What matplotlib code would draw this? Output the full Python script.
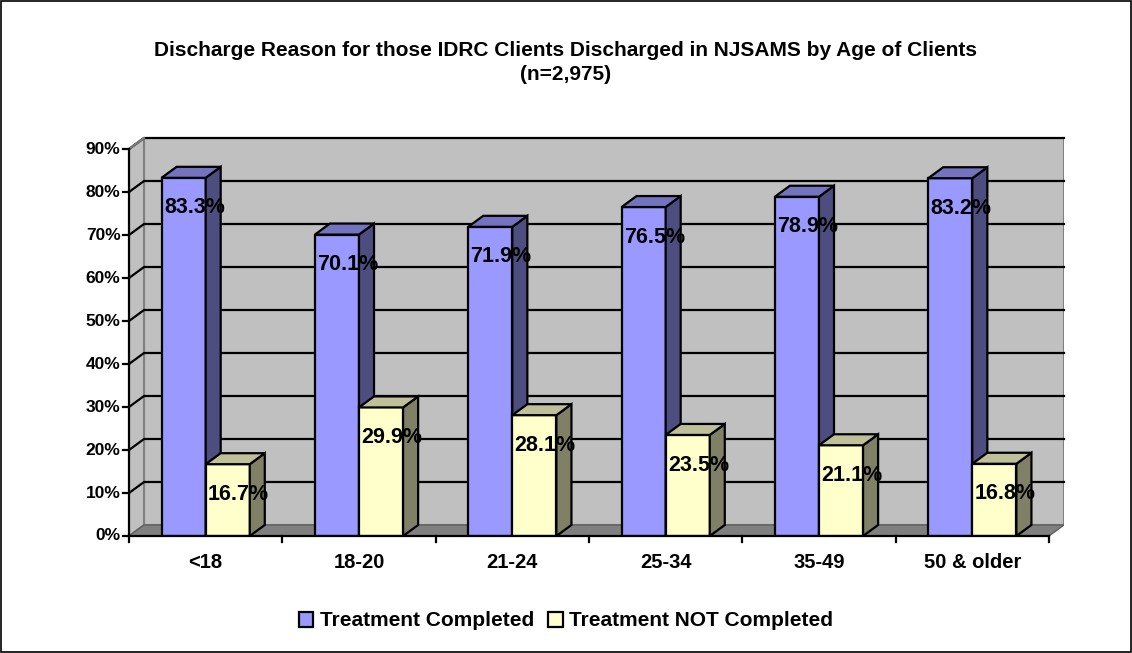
import matplotlib
matplotlib.use("Agg")
import matplotlib.pyplot as plt
from matplotlib.patches import Polygon, Rectangle, Patch

plt.rcParams['font.family'] = ['Liberation Sans', 'DejaVu Sans']

# data
ages = ['<18', '18-20', '21-24', '25-34', '35-49', '50 & older']
completed = [83.3, 70.1, 71.9, 76.5, 78.9, 83.2]
not_completed = [16.7, 29.9, 28.1, 23.5, 21.1, 16.8]
series_names = ['Treatment Completed', 'Treatment NOT Completed']
yticks = [0, 10, 20, 30, 40, 50, 60, 70, 80, 90]

# 3d look
dx = 0.098   # depth offset in category units
dy = 2.56    # depth offset in percent units
bw = 0.2876
colors = [('#9999FF', '#4D4D80', '#7373BF'),
          ('#FFFFCC', '#808066', '#BFBF99')]

W, H = 1132, 653
fig = plt.figure(figsize=(W / 100, H / 100), dpi=100)
fig.patch.set_facecolor('white')
ax = fig.add_axes([129 / W, (H - 536) / H, (1064 - 129) / W, (536 - 138) / H])
ax.set_xlim(-0.5, 5.5 + dx)
ax.set_ylim(0, 90 + dy)
ax.axis('off')

# walls
ax.add_patch(Rectangle((-0.5 + dx, dy), 6, 90, facecolor='#C0C0C0',
                       edgecolor='#808080', lw=1.5, zorder=0))
ax.add_patch(Polygon([(-0.5, 0), (-0.5, 90), (-0.5 + dx, 90 + dy), (-0.5 + dx, dy)],
                     closed=True, facecolor='#C0C0C0', edgecolor='#808080', lw=1.5, zorder=0))
ax.add_patch(Polygon([(-0.5, 0), (5.5, 0), (5.5 + dx, dy), (-0.5 + dx, dy)],
                     closed=True, facecolor='#808080', edgecolor='#606060', lw=1, zorder=0))

# gridlines
for t in yticks[1:]:
    ax.plot([-0.5, -0.5 + dx, 5.5 + dx], [t, t + dy, t + dy], color='black',
            lw=1.6, zorder=1, clip_on=False)
ax.plot([-0.5, -0.5 + dx], [90, 90 + dy], color='#808080', lw=1.5, zorder=1, clip_on=False)

# axes lines + ticks
ax.plot([-0.5, -0.5], [0, 90], color='black', lw=1.6, zorder=5, clip_on=False)
ax.plot([-0.5, 5.5], [0, 0], color='black', lw=1.6, zorder=5, clip_on=False)
for t in yticks:
    ax.plot([-0.5 - 0.04, -0.5], [t, t], color='black', lw=1.6, zorder=5, clip_on=False)
    ax.text(-0.5 - 0.055, t, f'{t}%', ha='right', va='center', fontsize=12.5,
            fontweight='bold')
for i in range(len(ages) + 1):
    ax.plot([i - 0.5, i - 0.5], [0, -1.4], color='black', lw=1.6, zorder=5, clip_on=False)
for i, a in enumerate(ages):
    ax.text(i, -6.1, a, ha='center', va='center', fontsize=14.5, fontweight='bold')


def bar3d(x0, h, cols):
    front, side, top = cols
    ax.bar(x0, h, width=bw, align='edge', color=front, edgecolor='black', lw=1.6, zorder=3)
    ax.add_patch(Polygon([(x0 + bw, 0), (x0 + bw + dx, dy), (x0 + bw + dx, h + dy), (x0 + bw, h)],
                         closed=True, facecolor=side, edgecolor='black', lw=1.6, zorder=3))
    ax.add_patch(Polygon([(x0, h), (x0 + dx, h + dy), (x0 + bw + dx, h + dy), (x0 + bw, h)],
                         closed=True, facecolor=top, edgecolor='black', lw=1.6, zorder=3))


for i in range(len(ages)):
    bar3d(i - bw, completed[i], colors[0])
    bar3d(i, not_completed[i], colors[1])

for i in range(len(ages)):
    ax.text(i - bw / 2 + 0.07, completed[i] - 7, f'{completed[i]:.1f}%', ha='center',
            va='center', fontsize=15.5, fontweight='bold', zorder=6)
    ax.text(i + bw / 2 + 0.07, not_completed[i] - 7, f'{not_completed[i]:.1f}%', ha='center',
            va='center', fontsize=15.5, fontweight='bold', zorder=6)

fig.text(0.5, 1 - 50 / H, 'Discharge Reason for those IDRC Clients Discharged in NJSAMS by Age of Clients',
         ha='center', va='center', fontsize=15, fontweight='bold')
fig.text(0.5, 1 - 74 / H, '(n=2,975)', ha='center', va='center', fontsize=15, fontweight='bold')

handles = [Patch(facecolor=colors[0][0], edgecolor='black', lw=1.6),
           Patch(facecolor=colors[1][0], edgecolor='black', lw=1.6)]
fig.legend(handles, series_names, loc='center', bbox_to_anchor=(0.5, 1 - 621 / H), ncol=2,
           frameon=False, prop={'size': 15, 'weight': 'bold'}, handlelength=0.7,
           handleheight=0.7, handletextpad=0.3, columnspacing=0.7)

fig.add_artist(Rectangle((1 / W, 1 / H), (W - 2) / W, (H - 2) / H, transform=fig.transFigure,
                         fill=False, edgecolor='black', lw=1.2))

fig.savefig('out.png', dpi=100)
